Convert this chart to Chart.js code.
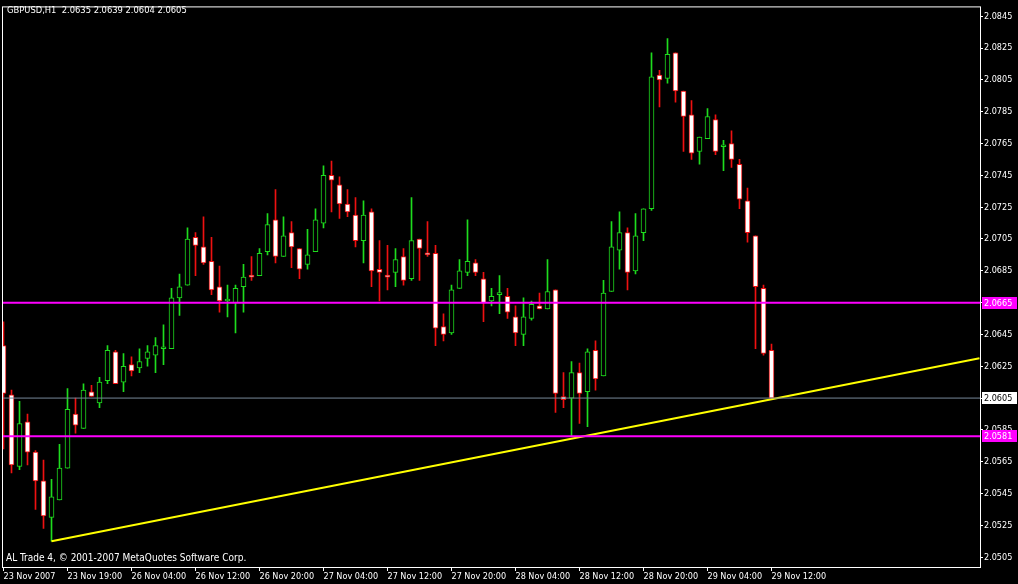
<!DOCTYPE html>
<html>
<head>
<meta charset="utf-8">
<script src="https://cdn.jsdelivr.net/npm/chart.js@4/dist/chart.umd.min.js"></script>
<style>
  html, body { margin: 0; padding: 0; background: #000; }
  canvas { display: block; }
</style>
</head>
<body>
<canvas id="chart" width="1018" height="584"></canvas>
<script>
// GBPUSD H1 bars, oldest first
var openP = [
  2.0638, 2.0607, 2.0562, 2.0590, 2.0571, 2.0553, 2.0530, 2.0541, 2.0561, 2.0595,
  2.0586, 2.0609, 2.0602, 2.0616, 2.0634, 2.0615, 2.0626, 2.0624, 2.0630, 2.0632,
  2.0636, 2.0636, 2.0668, 2.0676, 2.0706, 2.0700, 2.0691, 2.0675, 2.0666, 2.0665,
  2.0675, 2.0682, 2.0682, 2.0697, 2.0717, 2.0694, 2.0709, 2.0699, 2.0689, 2.0697,
  2.0715, 2.0745, 2.0739, 2.0727, 2.0720, 2.0704, 2.0722, 2.0686, 2.0682, 2.0684,
  2.0694, 2.0680, 2.0705, 2.0696, 2.0696, 2.0650, 2.0646, 2.0674, 2.0684, 2.0690,
  2.0680, 2.0666, 2.0670, 2.0669, 2.0656, 2.0645, 2.0655, 2.0663, 2.0661, 2.0673,
  2.0606, 2.0605, 2.0621, 2.0609, 2.0635, 2.0619, 2.0672, 2.0698, 2.0709, 2.0685,
  2.0709, 2.0724, 2.0808, 2.0806, 2.0822, 2.0798, 2.0783, 2.0760, 2.0768, 2.0780,
  2.0763, 2.0765, 2.0752, 2.0729, 2.0707, 2.0674, 2.0635
];
var highP = [
  2.0653, 2.0610, 2.0603, 2.0595, 2.0572, 2.0566, 2.0554, 2.0576, 2.0611, 2.0605,
  2.0614, 2.0613, 2.0618, 2.0638, 2.0635, 2.0633, 2.0631, 2.0636, 2.0638, 2.0643,
  2.0651, 2.0674, 2.0683, 2.0712, 2.0709, 2.0719, 2.0706, 2.0688, 2.0676, 2.0676,
  2.0689, 2.0694, 2.0699, 2.0721, 2.0736, 2.0719, 2.0716, 2.0699, 2.0711, 2.0724,
  2.0751, 2.0754, 2.0744, 2.0736, 2.0731, 2.0729, 2.0724, 2.0704, 2.0701, 2.0699,
  2.0699, 2.0731, 2.0705, 2.0716, 2.0701, 2.0658, 2.0676, 2.0692, 2.0717, 2.0692,
  2.0684, 2.0674, 2.0682, 2.0674, 2.0663, 2.0668, 2.0666, 2.0671, 2.0692, 2.0673,
  2.0621, 2.0628, 2.0627, 2.0636, 2.0641, 2.0679, 2.0716, 2.0722, 2.0712, 2.0721,
  2.0724, 2.0822, 2.0811, 2.0831, 2.0822, 2.0798, 2.0792, 2.0769, 2.0787, 2.0783,
  2.0767, 2.0773, 2.0755, 2.0737, 2.0707, 2.0676, 2.0639
];
var lowP = [
  2.0573, 2.0558, 2.0560, 2.0563, 2.0535, 2.0523, 2.0515, 2.0541, 2.0561, 2.0583,
  2.0586, 2.0606, 2.0599, 2.0614, 2.0614, 2.0609, 2.0619, 2.0621, 2.0625, 2.0621,
  2.0626, 2.0636, 2.0657, 2.0676, 2.0682, 2.0689, 2.0670, 2.0659, 2.0656, 2.0646,
  2.0659, 2.0679, 2.0682, 2.0695, 2.0690, 2.0694, 2.0687, 2.0680, 2.0686, 2.0697,
  2.0712, 2.0722, 2.0718, 2.0719, 2.0700, 2.0690, 2.0675, 2.0666, 2.0673, 2.0675,
  2.0676, 2.0679, 2.0679, 2.0694, 2.0638, 2.0641, 2.0645, 2.0674, 2.0682, 2.0682,
  2.0653, 2.0663, 2.0658, 2.0655, 2.0638, 2.0638, 2.0654, 2.0661, 2.0661, 2.0596,
  2.0599, 2.0581, 2.0589, 2.0587, 2.0610, 2.0619, 2.0672, 2.0686, 2.0673, 2.0683,
  2.0704, 2.0723, 2.0788, 2.0803, 2.0791, 2.0760, 2.0755, 2.0752, 2.0768, 2.0758,
  2.0748, 2.0750, 2.0724, 2.0703, 2.0636, 2.0632, 2.0604
];
var closeP = [
  2.0608, 2.0563, 2.0589, 2.0571, 2.0553, 2.0531, 2.0543, 2.0561, 2.0598, 2.0588,
  2.0610, 2.0606, 2.0615, 2.0635, 2.0614, 2.0625, 2.0622, 2.0628, 2.0634, 2.0638,
  2.0636, 2.0668, 2.0675, 2.0705, 2.0701, 2.0690, 2.0673, 2.0666, 2.0666, 2.0674,
  2.0681, 2.0681, 2.0696, 2.0714, 2.0694, 2.0707, 2.0700, 2.0686, 2.0695, 2.0717,
  2.0745, 2.0742, 2.0727, 2.0722, 2.0704, 2.0720, 2.0685, 2.0684, 2.0681, 2.0692,
  2.0679, 2.0704, 2.0699, 2.0695, 2.0649, 2.0645, 2.0673, 2.0685, 2.0691, 2.0684,
  2.0665, 2.0669, 2.0670, 2.0659, 2.0646, 2.0656, 2.0664, 2.0661, 2.0672, 2.0608,
  2.0604, 2.0621, 2.0608, 2.0634, 2.0617, 2.0671, 2.0700, 2.0709, 2.0684, 2.0707,
  2.0724, 2.0807, 2.0805, 2.0821, 2.0798, 2.0782, 2.0759, 2.0769, 2.0782, 2.0760,
  2.0763, 2.0755, 2.0730, 2.0709, 2.0675, 2.0633, 2.0605
];

// time axis labels, one every 8 bars
var tickLabels = [
  '23 Nov 2007', '23 Nov 19:00', '26 Nov 04:00', '26 Nov 12:00', '26 Nov 20:00',
  '27 Nov 04:00', '27 Nov 12:00', '27 Nov 20:00', '28 Nov 04:00', '28 Nov 12:00',
  '28 Nov 20:00', '29 Nov 04:00', '29 Nov 12:00'
];
var priceTicks = [
  2.0845, 2.0825, 2.0805, 2.0785, 2.0765, 2.0745, 2.0725, 2.0705, 2.0685,
  2.0665, 2.0645, 2.0625, 2.0605, 2.0585, 2.0565, 2.0545, 2.0525, 2.0505
];

// drawn objects
var levelPrices = [2.0665, 2.0581];   // magenta horizontal lines
var bidPrice = 2.0605;                // current bid line
var trendBars = [6, 122];
var trendPrices = [2.0515, 2.0630];
var header = 'GBPUSD,H1  2.0635 2.0639 2.0604 2.0605';
var footer = 'AL Trade 4, \u00A9 2001-2007 MetaQuotes Software Corp.';

var GREEN = '#1edc1e';
var RED = '#ee1111';
var MAGENTA = '#ff00ff';
var FAMILY = "'DejaVu Sans Condensed', 'DejaVu Sans', sans-serif";
var FONT = { family: FAMILY, size: 9 };
var X_MIN = -0.1875, X_MAX = 122.0625;
var Y_MIN = 2.04982, Y_MAX = 2.08512;

var isBull = closeP.map(function(c, i) { return c >= openP[i]; });

var bodies = openP.map(function(o, i) { return { x: i, y: [o, closeP[i]] }; });
var wicks = lowP.map(function(l, i) { return { x: i, y: [l, highP[i]] }; });

function hLine(p) { return [{ x: X_MIN, y: p }, { x: X_MAX, y: p }]; }

var extras = {
  id: 'extras',
  beforeDraw: function(chart) {
    var c = chart.ctx;
    c.save();
    c.fillStyle = '#000';
    c.fillRect(0, 0, chart.width, chart.height);
    c.restore();
  },
  afterDatasetsDraw: function(chart) {
    var c = chart.ctx, a = chart.chartArea;
    c.save();
    c.strokeStyle = '#fff';
    c.lineWidth = 1;
    c.strokeRect(a.left + 0.5, a.top + 0.5, a.right - a.left, a.bottom - a.top - 1);
    c.fillStyle = '#fff';
    c.textBaseline = 'middle';
    c.font = '9.3px ' + FAMILY;
    c.fillText(header, 7, 11);
    c.font = '10px ' + FAMILY;
    c.fillText(footer, 6, 558);
    c.restore();
  },
  afterDraw: function(chart) {
    var c = chart.ctx, y = chart.scales.y;
    c.save();
    c.font = FONT.size + 'px ' + FAMILY;
    c.textBaseline = 'middle';
    function tag(p, bg, fg) {
      var py = Math.round(y.getPixelForValue(p));
      c.fillStyle = bg;
      c.fillRect(982, py - 6, 35, 12);
      c.fillStyle = fg;
      c.fillText(p.toFixed(4), 984, py + 0.5);
    }
    tag(bidPrice, '#fff', '#000');
    levelPrices.forEach(function(p) { tag(p, MAGENTA, '#fff'); });
    c.restore();
  }
};

new Chart(document.getElementById('chart'), {
  type: 'bar',
  data: {
    datasets: [
      {
        type: 'line', data: hLine(levelPrices[0]), borderColor: MAGENTA,
        borderWidth: 2, pointRadius: 0, order: 0
      },
      {
        type: 'line', data: hLine(levelPrices[1]), borderColor: MAGENTA,
        borderWidth: 2, pointRadius: 0, order: 0
      },
      {
        type: 'line', data: hLine(bidPrice), borderColor: '#778899',
        borderWidth: 1, pointRadius: 0, order: 0
      },
      {
        type: 'line',
        data: trendBars.map(function(b, k) { return { x: b, y: trendPrices[k] }; }),
        borderColor: '#ffff00', borderWidth: 2, pointRadius: 0, order: 0
      },
      {
        data: bodies,
        backgroundColor: isBull.map(function(b) { return b ? '#000' : '#fff'; }),
        borderColor: isBull.map(function(b) { return b ? GREEN : RED; }),
        borderWidth: 1, borderSkipped: false, minBarLength: 2,
        barThickness: 5, grouped: false, clip: 0, order: 1
      },
      {
        data: wicks,
        backgroundColor: isBull.map(function(b) { return b ? GREEN : RED; }),
        borderWidth: 0, barThickness: 1, grouped: false, clip: 0, order: 2
      }
    ]
  },
  options: {
    responsive: false,
    animation: false,
    devicePixelRatio: 1,
    layout: { padding: { left: 2, top: 2, right: 0, bottom: 0 } },
    plugins: { legend: { display: false }, tooltip: { enabled: false } },
    scales: {
      x: {
        type: 'linear', min: X_MIN, max: X_MAX, offset: false,
        grid: { drawOnChartArea: false, tickLength: 3, color: '#fff', offset: false },
        border: { display: false },
        ticks: {
          color: '#fff', font: FONT, padding: 0, align: 'start',
          autoSkip: false, maxRotation: 0,
          callback: function(v, i) { return tickLabels[i]; }
        },
        afterBuildTicks: function(s) {
          s.ticks = tickLabels.map(function(_, k) { return { value: k * 8 }; });
        },
        afterFit: function(s) { s.height = 16; }
      },
      y: {
        type: 'linear', position: 'right', min: Y_MIN, max: Y_MAX,
        grid: { drawOnChartArea: false, tickLength: 3, color: '#fff' },
        border: { display: false },
        ticks: {
          color: '#fff', font: FONT, padding: 1, autoSkip: false,
          callback: function(v) { return v.toFixed(4); }
        },
        afterBuildTicks: function(s) {
          s.ticks = priceTicks.map(function(v) { return { value: v }; });
        },
        afterFit: function(s) { s.width = 38; }
      }
    }
  },
  plugins: [extras]
});
</script>
</body>
</html>
